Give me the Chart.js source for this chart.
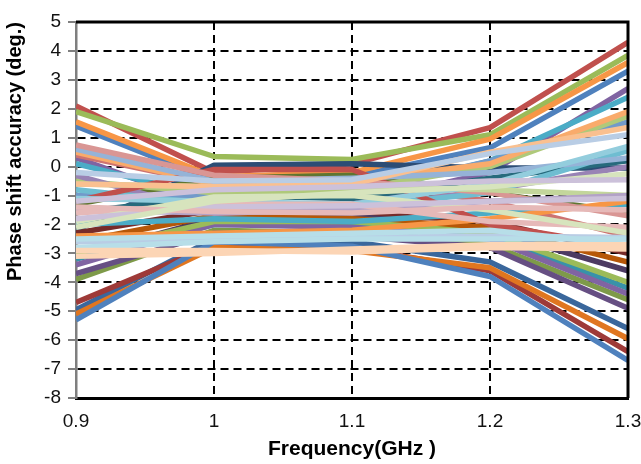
<!DOCTYPE html>
<html>
<head>
<meta charset="utf-8">
<script src="https://cdn.jsdelivr.net/npm/chart.js@4.4.0/dist/chart.umd.min.js"></script>
<style>
  html, body { margin: 0; padding: 0; background: #fff; }
  #phaseChart { display: block; }
</style>
</head>
<body>
<canvas id="phaseChart" width="641" height="464"></canvas>
<script>
// frecuencias medidas (GHz)
const freqs = [0.9, 1.0, 1.1, 1.2, 1.3];
const xTickLabels = ["0.9", "1", "1.1", "1.2", "1.3"];
const yMin = -8;
const yMax = 5;

// error de fase (deg.) por estado, un array por curva
const phaseSeries = [
  [1.4, -0.5, -0.35, 0.65, 3.3],
  [2.1, -0.2, 0.1, 1.35, 4.3],
  [1.9, 0.35, 0.25, 1.1, 3.85],
  [0.3, -1.4, -1.3, -0.2, 2.7],
  [0.1, -1.1, -1.0, 0.2, 2.4],
  [1.55, -0.35, -0.2, 0.95, 3.6],
  [-2.2, 0.05, 0.1, -0.05, -0.05],
  [-2.3, -1.5, -1.6, -1.9, -3.0],
  [-1.3, -0.4, -0.3, -0.9, -1.6],
  [-3.1, -1.8, -1.7, -2.2, -3.6],
  [-1.6, -1.0, -1.1, -0.4, 0.2],
  [-2.6, -1.7, -1.8, -2.1, -3.3],
  [-1.0, -1.0, -0.9, 0.2, 1.55],
  [0.4, -0.6, -0.5, -1.2, -2.4],
  [-0.5, -0.9, -0.8, 0.0, 1.75],
  [-0.3, -1.6, -1.5, -0.8, 0.0],
  [-0.8, -1.3, -1.4, -0.9, 0.55],
  [0.5, -0.6, -0.5, 0.1, 1.9],
  [-4.95, -2.5, -2.6, -3.3, -5.6],
  [-4.7, -2.7, -2.8, -3.6, -6.4],
  [-3.9, -2.2, -2.3, -2.7, -4.6],
  [-3.7, -2.3, -2.4, -2.8, -4.9],
  [-3.2, -2.0, -2.0, -2.4, -4.2],
  [-5.1, -2.8, -2.9, -3.5, -5.95],
  [-5.3, -2.6, -2.75, -3.8, -6.7],
  [-3.4, -2.0, -2.1, -2.5, -4.4],
  [-3.0, -1.9, -1.9, -2.3, -4.0],
  [-2.0, -1.8, -1.9, -1.6, -1.3],
  [-1.2, -0.1, -0.1, -2.0, -2.8],
  [-2.4, -2.3, -2.2, -1.8, -1.2],
  [0.6, -0.5, -0.4, -0.2, 0.3],
  [0.75, -0.3, -0.5, -0.9, -1.7],
  [-0.6, -0.7, -0.7, -0.8, -1.0],
  [-1.5, -1.6, -1.5, -1.2, -1.0],
  [-1.1, -1.2, -1.3, -0.6, 0.7],
  [-0.6, -0.7, -0.6, 0.5, 1.35],
  [-2.6, -2.55, -2.45, -2.4, -2.45],
  [-1.6, -1.3, -1.3, -1.9, -2.1],
  [-1.9, -1.05, -1.0, -1.5, -2.3],
  [-1.8, -1.4, -1.35, -1.2, -1.1],
  [-2.5, -2.4, -2.3, -2.2, -2.7],
  [-3.1, -3.0, -2.85, -2.7, -2.7],
  [-0.2, -0.5, -0.45, 0.45, 1.1],
  [-1.4, -1.55, -1.6, -1.4, -1.5],
  [-2.1, -1.2, -0.9, -0.7, -0.25],
  [-1.2, -0.8, -0.7, -0.5, -0.45],
  [-2.8, -2.6, -2.5, -2.5, -2.5],
  [-2.9, -2.9, -2.95, -2.8, -2.85]
];

// paleta tipo Excel (se repite si hay más curvas)
const palette = [
  "#4F81BD", "#C0504D", "#9BBB59", "#8064A2", "#4BACC6", "#F79646",
  "#2C4D75", "#772C2A", "#5F7530", "#4D3B62", "#276A7C", "#B65708",
  "#729ACA", "#CD7371", "#AFC97A", "#9983B5", "#6FBDD1", "#F9AB6B",
  "#3A679C", "#9E3A38", "#7E9A49", "#664F83", "#3892A9", "#E07620",
  "#4F81BD", "#8064A2", "#9BBB59", "#4BACC6", "#C0504D", "#F79646",
  "#95B3D7", "#D99694", "#C3D69B", "#B3A2C7", "#93CDDD", "#FAC090",
  "#B9CDE5", "#E6B9B8", "#D7E4BD", "#CCC1DA", "#B7DEE8", "#FCD5B5",
  "#B9CDE5", "#E6B9B8", "#D7E4BD", "#CCC1DA", "#B7DEE8", "#FCD5B5"
];

const FONT = "'Liberation Sans', Arial, sans-serif";

// las últimas curvas quedan encima (Chart.js pinta el índice 0 al final)
const datasets = phaseSeries.map((vals, i) => ({
  label: "estado " + (i + 1),
  data: vals.map((v, k) => ({ x: freqs[k], y: v })),
  borderColor: palette[i % palette.length],
  borderWidth: 5.5,
  borderJoinStyle: "round",
  pointRadius: 0,
  tension: 0,
  fill: false,
  clip: 0
})).reverse();

const frame = {
  id: "frame",
  afterDatasetsDraw(chart) {
    const { ctx, chartArea: a } = chart;
    ctx.save();
    ctx.strokeStyle = "#000";
    ctx.lineWidth = 3;
    ctx.beginPath();
    ctx.moveTo(a.left, a.top);
    ctx.lineTo(a.right, a.top);
    ctx.lineTo(a.right, a.bottom);
    ctx.stroke();
    ctx.restore();
  }
};

const edgeless = (ctx, n) =>
  (ctx.index === 0 || ctx.index === n - 1) ? "rgba(0,0,0,0)" : "#000";

new Chart(document.getElementById("phaseChart"), {
  type: "line",
  data: { datasets },
  plugins: [frame],
  options: {
    responsive: false,
    animation: false,
    devicePixelRatio: 1,
    layout: { padding: { left: 0, right: 0, top: 22, bottom: 0 } },
    plugins: { legend: { display: false }, tooltip: { enabled: false } },
    scales: {
      x: {
        type: "linear",
        min: freqs[0],
        max: freqs[freqs.length - 1],
        afterBuildTicks: s => { s.ticks = freqs.map(v => ({ value: v })); },
        afterFit: s => {
          s.height = 66;
          s.paddingLeft = 0;
          s.paddingRight = 13;
        },
        ticks: {
          callback: (v, i) => xTickLabels[i],
          font: { family: FONT, size: 19 },
          color: "#111",
          padding: 12,
          maxRotation: 0
        },
        grid: {
          color: ctx => edgeless(ctx, freqs.length),
          lineWidth: 2,
          drawTicks: false
        },
        border: { color: "#000", width: 3, dash: [8, 5] },
        title: {
          display: true,
          text: "Frequency(GHz )",
          font: { family: FONT, size: 21, weight: "bold" },
          color: "#000",
          padding: { top: 0, bottom: 2 }
        }
      },
      y: {
        min: yMin,
        max: yMax,
        afterFit: s => { s.width = 76; },
        ticks: {
          stepSize: 1,
          font: { family: FONT, size: 19 },
          color: "#111",
          padding: 7
        },
        grid: {
          color: ctx => edgeless(ctx, yMax - yMin + 1),
          lineWidth: 2,
          tickColor: "#808080",
          tickLength: 8,
          tickWidth: 2,
          tickBorderDash: []
        },
        border: { color: "#7f7f7f", width: 2.5, dash: [8, 5] },
        title: {
          display: true,
          text: "Phase shift accuracy (deg.)",
          align: "end",
          font: { family: FONT, size: 20, weight: "bold" },
          color: "#000",
          padding: { top: 3, bottom: 0 }
        }
      }
    }
  }
});
</script>
</body>
</html>
